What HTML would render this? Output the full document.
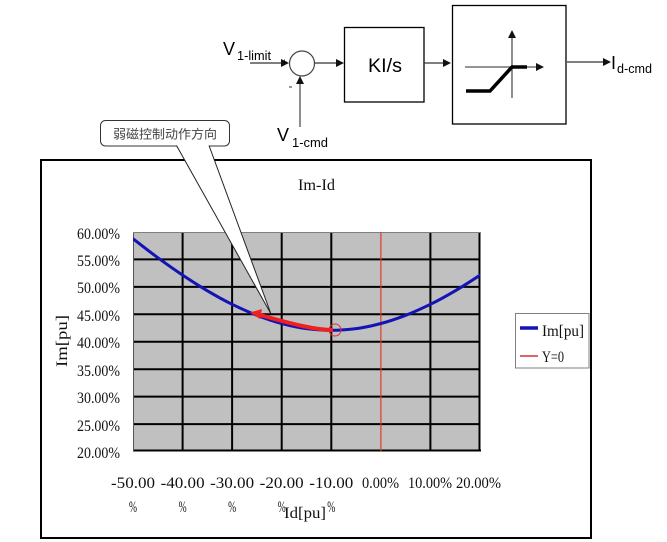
<!DOCTYPE html>
<html><head><meta charset="utf-8"><style>
html,body{margin:0;padding:0;background:#fff;}
svg{display:block;}
.t{font-family:"Liberation Serif","Noto Serif CJK SC",serif;font-size:16px;fill:#111;}
.a{font-family:"Liberation Sans",Arial,sans-serif;fill:#000;}
</style></head><body>
<svg width="667" height="542" viewBox="0 0 667 542" xmlns="http://www.w3.org/2000/svg">
<defs>
<clipPath id="pc"><rect x="133" y="232" width="347" height="219"/></clipPath>
</defs>
<rect x="0" y="0" width="667" height="542" fill="#fff"/>

<!-- Block diagram -->
<text class="a" x="223" y="55" font-size="18">V</text>
<text class="a" x="237" y="60" font-size="13" textLength="34" lengthAdjust="spacingAndGlyphs">1-limit</text>
<line x1="250" y1="63" x2="284" y2="63" stroke="#333" stroke-width="1.2"/>
<polygon points="289,63 281,59 281,67" fill="#111"/>
<text class="a" x="282" y="65" font-size="9">+</text>
<circle cx="302" cy="63.5" r="12.5" fill="none" stroke="#444" stroke-width="1.2"/>
<line x1="314.5" y1="63" x2="339" y2="63" stroke="#333" stroke-width="1.2"/>
<polygon points="344,63 336,59 336,67" fill="#111"/>
<line x1="300" y1="127" x2="300" y2="82" stroke="#444" stroke-width="1.2"/>
<polygon points="300,76 296,84 304,84" fill="#111"/>
<line x1="289" y1="87" x2="292" y2="87" stroke="#333" stroke-width="1"/>
<text class="a" x="277" y="141" font-size="18">V</text>
<text class="a" x="292" y="147" font-size="13" textLength="36" lengthAdjust="spacingAndGlyphs">1-cmd</text>

<rect x="344.5" y="27.5" width="79.5" height="74.5" fill="#fff" stroke="#000" stroke-width="1.3"/>
<text class="a" x="368" y="72" font-size="19" textLength="34" lengthAdjust="spacingAndGlyphs">KI/s</text>
<line x1="424" y1="63" x2="446" y2="63" stroke="#333" stroke-width="1.2"/>
<polygon points="451,63 443,59 443,67" fill="#111"/>

<rect x="452.5" y="5.5" width="113.5" height="118.5" fill="#fff" stroke="#000" stroke-width="1.3"/>
<line x1="512" y1="98" x2="512" y2="36" stroke="#444" stroke-width="1.2"/>
<polygon points="512,30 508,38 516,38" fill="#111"/>
<line x1="465" y1="67" x2="538" y2="67" stroke="#555" stroke-width="1.2"/>
<polygon points="544,67 536,63 536,71" fill="#111"/>
<polyline points="466,91 490,91 512,67 527,67" fill="none" stroke="#000" stroke-width="3.5"/>

<line x1="567" y1="62" x2="605" y2="62" stroke="#333" stroke-width="1.2"/>
<polygon points="611,62 603,58 603,66" fill="#111"/>
<text class="a" x="611" y="69" font-size="18">I</text>
<text class="a" x="617" y="73" font-size="13" textLength="35" lengthAdjust="spacingAndGlyphs">d-cmd</text>

<!-- Chart frame -->
<rect x="41" y="160" width="550" height="378" fill="#fff" stroke="#000" stroke-width="2"/>
<text class="t" x="298" y="190" font-size="17" textLength="37" lengthAdjust="spacingAndGlyphs">Im-Id</text>

<!-- Plot area -->
<rect x="133" y="232" width="347" height="219" fill="#c0c0c0"/>
<g stroke="#000" stroke-width="2">
<line x1="182.6" y1="232" x2="182.6" y2="451"/>
<line x1="232.1" y1="232" x2="232.1" y2="451"/>
<line x1="281.7" y1="232" x2="281.7" y2="451"/>
<line x1="331.3" y1="232" x2="331.3" y2="451"/>
<line x1="430.4" y1="232" x2="430.4" y2="451"/>
<line x1="479.5" y1="232" x2="479.5" y2="451"/>
<line x1="133" y1="259.4" x2="480" y2="259.4"/>
<line x1="133" y1="286.9" x2="480" y2="286.9"/>
<line x1="133" y1="314.3" x2="480" y2="314.3"/>
<line x1="133" y1="341.8" x2="480" y2="341.8"/>
<line x1="133" y1="369.2" x2="480" y2="369.2"/>
<line x1="133" y1="396.6" x2="480" y2="396.6"/>
<line x1="133" y1="424.1" x2="480" y2="424.1"/>
<line x1="133" y1="450.5" x2="481" y2="450.5"/>
</g>
<line x1="133.5" y1="232" x2="133.5" y2="451" stroke="#555" stroke-width="1"/>
<line x1="133" y1="232.5" x2="480" y2="232.5" stroke="#808080" stroke-width="1"/>
<line x1="380.9" y1="232" x2="380.9" y2="451" stroke="#e03a2a" stroke-width="1.2"/>

<g clip-path="url(#pc)">
<path d="M133,238.7 C141.3,245.2 149.5,251.6 157.8,257.7 C166.1,263.8 174.3,269.6 182.6,275.1 C190.9,280.6 199.1,285.9 207.4,290.8 C215.7,295.7 223.8,300.3 232.1,304.3 C240.4,308.3 248.6,312.1 256.9,315.3 C265.2,318.5 273.4,321.3 281.7,323.5 C290,325.7 298.2,327.6 306.5,328.6 C314.8,329.6 323,330.3 331.3,330.3 C339.6,330.3 347.8,329.6 356.1,328.6 C364.4,327.6 372.6,325.7 380.9,323.5 C389.2,321.3 397.4,318.5 405.7,315.3 C414,312.1 422.1,308.3 430.4,304.3 C438.7,300.3 446.9,295.7 455.2,290.8 C463.5,285.9 471.7,280.6 481,274.5" fill="none" stroke="#1414b4" stroke-width="3"/>
</g>
<path d="M333,330 C316,330 296,325 260,315" fill="none" stroke="#f02020" stroke-width="4"/>
<polygon points="250,312.5 262,309 260,319" fill="#f02020"/>
<circle cx="335" cy="330" r="6" fill="none" stroke="#e03030" stroke-width="1"/>

<!-- Y tick labels -->
<g class="t">
<text x="77" y="239" textLength="43" lengthAdjust="spacingAndGlyphs">60.00%</text>
<text x="77" y="266" textLength="43" lengthAdjust="spacingAndGlyphs">55.00%</text>
<text x="77" y="293" textLength="43" lengthAdjust="spacingAndGlyphs">50.00%</text>
<text x="77" y="321" textLength="43" lengthAdjust="spacingAndGlyphs">45.00%</text>
<text x="77" y="348" textLength="43" lengthAdjust="spacingAndGlyphs">40.00%</text>
<text x="77" y="376" textLength="43" lengthAdjust="spacingAndGlyphs">35.00%</text>
<text x="77" y="403" textLength="43" lengthAdjust="spacingAndGlyphs">30.00%</text>
<text x="77" y="431" textLength="43" lengthAdjust="spacingAndGlyphs">25.00%</text>
<text x="77" y="458" textLength="43" lengthAdjust="spacingAndGlyphs">20.00%</text>
</g>
<!-- X tick labels -->
<g class="t">
<text x="111" y="488" textLength="44" lengthAdjust="spacingAndGlyphs">-50.00</text>
<text x="160.6" y="488" textLength="44" lengthAdjust="spacingAndGlyphs">-40.00</text>
<text x="210.1" y="488" textLength="44" lengthAdjust="spacingAndGlyphs">-30.00</text>
<text x="259.7" y="488" textLength="44" lengthAdjust="spacingAndGlyphs">-20.00</text>
<text x="309.3" y="488" textLength="44" lengthAdjust="spacingAndGlyphs">-10.00</text>
<text x="362" y="488" textLength="37" lengthAdjust="spacingAndGlyphs">0.00%</text>
<text x="408" y="488" textLength="44" lengthAdjust="spacingAndGlyphs">10.00%</text>
<text x="456" y="488" textLength="45" lengthAdjust="spacingAndGlyphs">20.00%</text>
<text x="133" y="512" text-anchor="middle" textLength="8" lengthAdjust="spacingAndGlyphs">%</text>
<text x="182.6" y="512" text-anchor="middle" textLength="8" lengthAdjust="spacingAndGlyphs">%</text>
<text x="232.1" y="512" text-anchor="middle" textLength="8" lengthAdjust="spacingAndGlyphs">%</text>
<text x="281.7" y="512" text-anchor="middle" textLength="8" lengthAdjust="spacingAndGlyphs">%</text>
<text x="331.3" y="512" text-anchor="middle" textLength="8" lengthAdjust="spacingAndGlyphs">%</text>
<text x="284" y="518" textLength="42" lengthAdjust="spacingAndGlyphs">Id[pu]</text>
<text x="0" y="0" transform="translate(67,367) rotate(-90)" textLength="52" lengthAdjust="spacingAndGlyphs">Im[pu]</text>
</g>

<!-- Legend -->
<rect x="515.5" y="313.5" width="73.5" height="54.5" fill="#fff" stroke="#808080" stroke-width="1"/>
<line x1="520" y1="328" x2="538" y2="328" stroke="#1414b4" stroke-width="3.5"/>
<text class="t" x="542" y="336" textLength="42" lengthAdjust="spacingAndGlyphs">Im[pu]</text>
<line x1="520" y1="356" x2="538" y2="356" stroke="#d03030" stroke-width="1.5"/>
<text class="t" x="542" y="362" textLength="22" lengthAdjust="spacingAndGlyphs">Y=0</text>

<!-- Callout -->
<rect x="100.5" y="120.5" width="129" height="25.5" rx="5" ry="5" fill="#fff" stroke="#333" stroke-width="1"/>
<polygon points="176.5,145 209,145 271,314" fill="#fff"/>
<line x1="176.5" y1="145.5" x2="271" y2="314" stroke="#222" stroke-width="1"/>
<line x1="209" y1="145.5" x2="271" y2="314" stroke="#222" stroke-width="1"/>
<text x="113" y="138.5" font-family="'Liberation Sans','Noto Sans CJK SC',sans-serif" font-size="12.5" fill="#444" textLength="104" lengthAdjust="spacingAndGlyphs">弱磁控制动作方向</text>
</svg>
</body></html>
